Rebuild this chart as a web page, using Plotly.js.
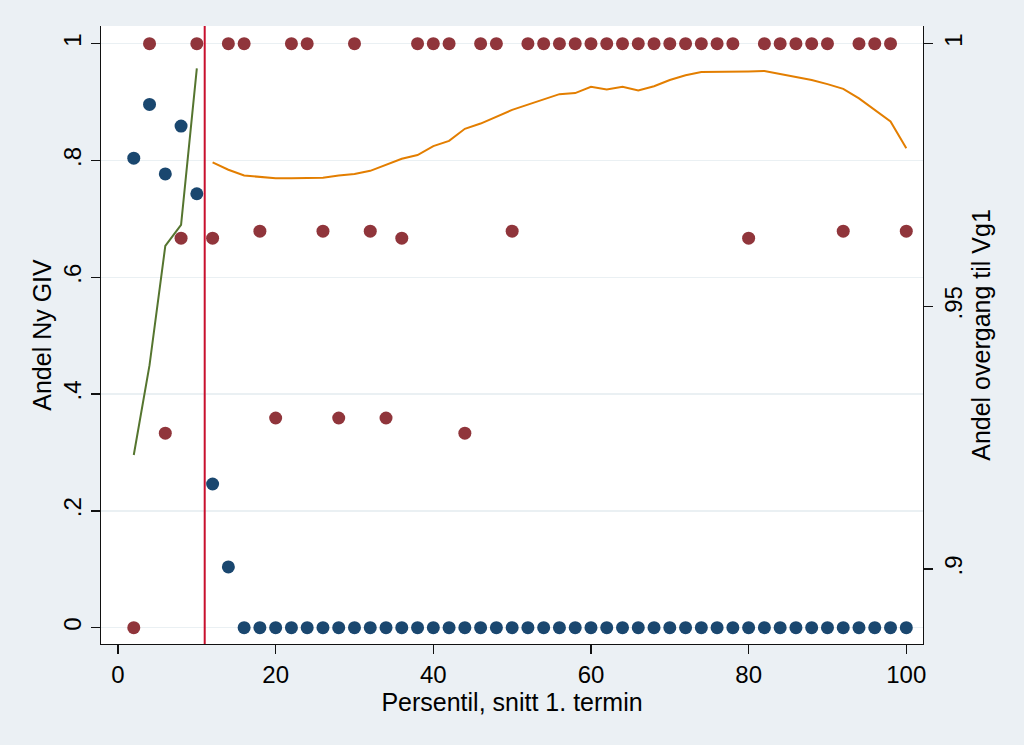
<!DOCTYPE html>
<html>
<head>
<meta charset="utf-8">
<script src="https://cdn.plot.ly/plotly-3.0.1.min.js"></script>
<style>
html,body{margin:0;padding:0;background:#EBF0F4;}
#chart{width:1024px;height:745px;}
</style>
</head>
<body>
<div id="chart"></div>
<script>
// Percentile bins (x)
const persentil = [2,4,6,8,10,12,14,16,18,20,22,24,26,28,30,32,34,36,38,40,42,44,46,48,50,
                   52,54,56,58,60,62,64,66,68,70,72,74,76,78,80,82,84,86,88,90,92,94,96,98,100];

// Andel Ny GIV - red markers
const andelRed = [0,1,0.333,0.667,1,0.667,1,1,0.679,0.359,1,1,0.679,0.359,1,0.679,0.359,0.667,1,1,1,0.333,1,1,0.679,
                  1,1,1,1,1,1,1,1,1,1,1,1,1,1,0.667,1,1,1,1,1,0.679,1,1,1,0.679];

// Andel Ny GIV - blue markers
const andelBlue = [0.804,0.896,0.777,0.859,0.743,0.246,0.104,0,0,0,0,0,0,0,0,0,0,0,0,0,0,0,0,0,0,
                   0,0,0,0,0,0,0,0,0,0,0,0,0,0,0,0,0,0,0,0,0,0,0,0,0];

// Andel overgang til Vg1 (right axis) - below cutoff
const xBelow = [2,4,6,8,10];
const overgangBelow = [0.9217,0.9388,0.9615,0.9655,0.9953];

// Andel overgang til Vg1 (right axis) - above cutoff
const xAbove = [12,14,16,18,20,22,24,26,28,30,32,34,36,38,40,42,44,46,48,50,52,54,56,58,60,
                62,64,66,68,70,72,74,76,78,80,82,84,86,88,90,92,94,96,98,100];
const overgangAbove = [0.9774,0.9760,0.9749,0.9746,0.9744,0.9744,0.9744,0.9745,0.9749,0.9752,
                       0.9758,0.9769,0.9781,0.9788,0.9805,0.9815,0.9838,0.9848,0.9861,0.9874,
                       0.9884,0.9894,0.9904,0.9906,0.9918,0.9913,0.9918,0.9911,0.9919,0.9931,
                       0.9940,0.9946,0.9946,0.9946,0.9947,0.9948,0.9942,0.9937,0.9931,0.9923,
                       0.9914,0.9896,0.9874,0.9852,0.9801];

const cutoff = 11;

const xTicks = [0,20,40,60,80,100];
const xTickText = ['0','20','40','60','80','100'];
const yTicks = [0,0.2,0.4,0.6,0.8,1];
const yTickText = ['0','.2','.4','.6','.8','1'];
const y2Ticks = [0.9,0.95,1];
const y2TickText = ['.9','.95','1'];

const FONT = '"Liberation Sans", Arial, Helvetica, sans-serif';

const traces = [
  {x: persentil, y: andelRed, type:'scatter', mode:'markers', yaxis:'y',
   marker:{color:'#90353B', size:13}, showlegend:false, hoverinfo:'skip'},
  {x: persentil, y: andelBlue, type:'scatter', mode:'markers', yaxis:'y',
   marker:{color:'#1A476F', size:13}, showlegend:false, hoverinfo:'skip'},
  {x: xBelow, y: overgangBelow, type:'scatter', mode:'lines', yaxis:'y2',
   line:{color:'#55752F', width:2}, showlegend:false, hoverinfo:'skip'},
  {x: xAbove, y: overgangAbove, type:'scatter', mode:'lines', yaxis:'y2',
   line:{color:'#E37E00', width:2}, showlegend:false, hoverinfo:'skip'}
];

const axisCommon = {
  showline:true, linecolor:'#111111', linewidth:1.4,
  ticks:'outside', ticklen:9, tickwidth:1.4, tickcolor:'#111111',
  zeroline:false, tickfont:{family:FONT, size:24, color:'#000'},
  fixedrange:true
};

const layout = {
  width:1024, height:745,
  margin:{l:101, r:101, t:26, b:101, pad:0},
  paper_bgcolor:'#EBF0F4', plot_bgcolor:'#FFFFFF',
  font:{family:FONT, color:'#000'},
  showlegend:false,
  xaxis: Object.assign({}, axisCommon, {
    range:[-2.157, 102.12], tickvals:xTicks, ticktext:xTickText,
    showgrid:false,
    title:{text:'Persentil, snitt 1. termin', font:{family:FONT, size:25, color:'#000'}, standoff:4}
  }),
  yaxis: Object.assign({}, axisCommon, {
    range:[-0.028, 1.0303], tickvals:yTicks, ticktext:yTickText, tickangle:-90,
    showgrid:true, gridcolor:'#EAF0F3', gridwidth:1.5,
    title:{text:'Andel Ny GIV', font:{family:FONT, size:25, color:'#000'}, standoff:0}
  }),
  yaxis2: Object.assign({}, axisCommon, {
    overlaying:'y', side:'right',
    range:[0.88572, 1.00337], tickvals:y2Ticks, ticktext:y2TickText, tickangle:-90,
    showgrid:false,
    title:{text:'Andel overgang til Vg1', font:{family:FONT, size:25, color:'#000'}, standoff:4}
  }),
  shapes:[
    {type:'line', xref:'x', yref:'paper', x0:cutoff, x1:cutoff, y0:0, y1:1,
     line:{color:'#C8102E', width:2}, layer:'above'}
  ]
};

Plotly.newPlot('chart', traces, layout, {staticPlot:true, displayModeBar:false});
</script>
</body>
</html>
